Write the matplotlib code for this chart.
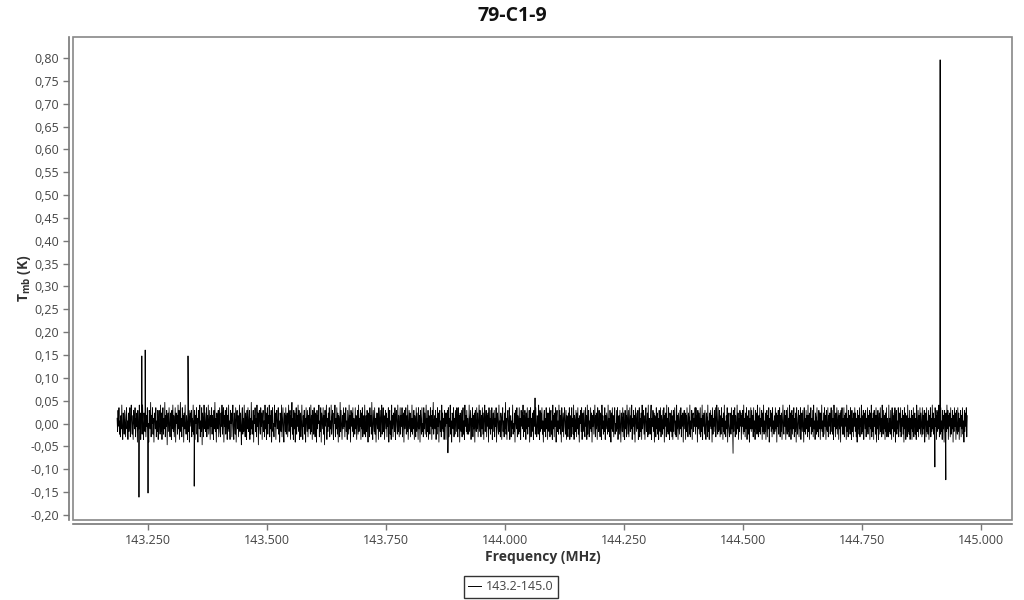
import numpy as np
import matplotlib
matplotlib.use("Agg")
import matplotlib.pyplot as plt
from matplotlib.ticker import FuncFormatter, MultipleLocator
from matplotlib.patches import Rectangle

plt.rcParams['font.family'] = ['Open Sans', 'DejaVu Sans']

title = "79-C1-9"
series_name = "143.2-145.0"
x_label = "Frequency (MHz)"
freq_start = 143.185
freq_end = 144.971
noise_unit_K = 0.0058

# baseline noise (units of ~5.8 mK)
noise_5mK = [
    2,-3,5,-1,6,-4,1,-5,3,-2,7,-3,-6,4,1,-4,5,0,-5,3,6,-2,1,-6,
    4,-3,0,6,-5,2,7,-1,-4,3,-6,5,1,-2,6,-5,2,-1,4,-7,5,0,-3,7,
    -2,4,-6,1,3,-4,7,-1,-6,4,1,-3,5,-5,3,-1,6,-4,0,-7,5,2,-2,8,
    -5,3,0,6,-4,2,-7,4,3,-2,6,-5,1,-3,5,-6,2,5,-1,-4,7,-3,4,-6,
    1,6,-4,2,-2,8,-5,3,-1,5,-8,2,4,-3,6,-1,-5,4,1,-6,5,-2,7,-3,
    3,-5,1,6,-7,4,0,3,-4,7,-2,5,-6,1,8,-3,2,-5,6,-1,3,-7,4,-2,
    7,-1,-4,3,0,-6,6,-3,5,-7,2,4,-1,5,-5,2,-3,7,-4,1,5,-6,3,0,
    6,-4,2,-7,5,2,-2,7,-5,1,-3,6,-8,4,1,-5,7,-2,4,-3,-1,6,-5,3,
    -2,7,-4,1,5,-6,3,-1,6,-4,3,0,-6,5,-2,8,-3,2,-7,4,2,-2,5,-5,
    1,6,-3,-5,4,-1,7,-4,2,6,-7,3,-1,5,-4,0,6,-6,3,-2,7,-3,1,-6,
    5,0,4,-5,2,7,-2,-6,4,1,-4,6,-7,3,5,-2,3,-5,1,7,-3,4,-1,-8,
    3,6,-4,2,-3,7,-1,-5,4,1,-6,5,-2,6,-3,0,5,-6,2,-4,8,-2,1,-4,
    5,-7,3,0,6,-3,2,-5,7,-1,4,-8,3,5,-2,-4,6,-1,4,-6,2,5,-3,1,
    -5,7,-2,4,-6,1,6,-4,3,0,7,-5,3,-2,5,-7,2,6,-3,0,-5,7,-1,4,
    -6,3,5,-2,-1,6,-4,1,-7,4,2,-3,7,-5,1,6,-2,-7,4,3,-3,6,-4,2,
    4,-5,1,7,-3,0,5,-6,3,-1,8,-4,2,-6,5,-2,4,-7,1,6,-4,3,-1,7,
    -3,5,-6,2,4,-5,0,7,-2,-6,3,-1,5,-4,2,-7,6,1,-3,5,-5,3,-2,6,
    0,-4,7,-3,3,-6,5,2,-4,6,-1,-5,4,2,-7,5,-2,3,0,7,-5,1,-3,6,
    -7,4,1,-2,6,-4,3,-8,5,-1,3,7,-6,2,-3,4,-1,6,-5,1,-2,7,-4,2,
    5,-3,-6,4,0,7,-5,2,-2,6,-4,4,-7,3,1,-5,8,-3,5,-1,-6,3,-2,6,
    -1,4,-5,2,6,-3,1,-6,5,0,-4,7,-2,3,-7,5,-1,4,-3,6,-5,2,0,-4,
    6,-2,3,-6,1,5,-4,7,-3,2,-1,5,-6,4,-2,6,-5,1,3,-4,7,-2,-5,3,
    -3,5,0,-7,4,2,-5,6,-1,3,-4,8,-2,-6,5,1,-3,6,-4,2,-7,4,1,-2,
    4,-6,6,-1,-3,5,-5,2,7,-4,0,6,-3,3,-6,1,5,-2,4,-5,2,-1,6,-7,
    2,5,-4,1,-6,7,-2,3,-5,4,1,-3,6,-6,2,5,-1,-4,7,-3,3,-5,0,6,
    -4,3,-1,6,-5,2,4,-7,5,-2,1,6,-4,3,-3,7,-6,0,5,-2,4,-5,2,-3,
    7,-4,2,-2,5,-6,3,1,-5,6,-3,4,-1,-6,6,-2,3,-7,5,1,-4,6,-3,0,
    -5,6,-2,4,-4,1,7,-5,2,-3,5,-6,3,0,-4,6,-1,3,-6,5,-2,8,-4,1,
    3,-2,5,-6,2,-4,6,-1,4,-7,3,5,-3,1,-5,7,-2,4,-3,2,-6,5,-1,4,
    -6,4,0,5,-3,6,-5,2,-1,7,-4,1,-7,4,3,-2,6,-5,2,-4,5,1,-3,6,
    2,-5,6,-2,3,-7,4,0,-3,5,-5,2,6,-4,1,-6,7,-1,3,-3,5,-4,2,-2,
    -4,7,-3,1,5,-6,2,-1,6,-5,3,-2,4,-7,5,0,-3,6,-2,4,-5,1,7,-3,
    5,-1,-5,3,-2,6,-4,4,-6,2,7,-3,0,5,-5,3,-1,4,-7,6,-2,2,-4,5,
    -2,6,-6,1,4,-3,5,-5,2,-1,6,-7,3,4,-2,-4,7,-3,1,-5,4,2,-6,3,
    6,-3,1,-5,4,-2,8,-4,2,-6,3,5,-1,-3,6,-6,2,3,-5,1,-2,7,-4,0,
    -3,4,-7,5,1,-2,6,-5,3,0,-4,6,-3,2,-6,5,-1,4,-2,7,-5,3,-3,5,
    1,-6,4,-2,6,-4,2,-1,5,-7,3,6,-5,2,-3,4,0,-6,5,-1,3,-4,6,-2,
    -5,3,2,-4,7,-1,-6,5,-3,4,-2,6,-4,1,-7,3,5,-3,2,-5,6,-2,4,-6,
    4,-1,-3,6,-5,2,5,-4,1,-6,7,-2,3,-5,4,-1,6,-7,2,5,-3,1,-4,7,
    -2,5,-4,3,-7,6,0,-3,4,-5,2,6,-1,-4,5,-6,3,1,-5,4,-2,6,-6,2,
    3,-5,6,-1,2,-4,7,-6,3,1,-3,5,-5,4,-2,6,-4,2,-7,3,0,5,-3,6,
    -6,2,4,-3,5,-2,-5,6,-1,3,-6,7,-4,2,5,-5,1,-2,6,-3,4,-7,3,-1,
    5,-4,1,7,-5,3,-2,4,-6,6,0,-3,5,-1,-5,4,2,-6,7,-2,3,-4,1,-3,
    6,-6,3,-2,4,-1,-4,7,-3,2,-5,5,1,-7,4,-2,6,-3,3,-5,2,6,-4,0,
    -3,5,-2,6,-6,1,3,-4,5,-1,-7,4,2,-3,6,-5,4,0,-6,5,-2,3,-5,7,
    2,-4,5,-5,1,6,-3,3,-2,7,-6,2,-1,5,-4,3,-7,6,1,-3,4,-2,5,-6,
    -1,6,-5,2,-3,4,-6,7,-2,1,5,-4,3,-6,2,6,-3,-1,4,-5,7,-4,2,1,
    -4,3,7,-6,2,-1,5,-3,4,-7,3,1,-5,6,-2,4,-4,2,-6,5,0,-3,6,-5,
    3,1,-4,5,-2,6,-7,3,-1,4,-5,7,-3,2,-4,6,-1,-6,4,2,-3,5,-5,3,
    -6,5,-3,2,6,-4,1,-5,7,-2,3,-6,4,0,-4,5,-2,6,-5,3,-1,4,-7,2,
    5,-2,4,-6,3,-3,6,-1,-5,4,2,-4,7,-5,1,-2,5,-6,3,4,-3,2,-1,6,
    -4,6,-1,3,-7,5,-2,4,-4,1,6,-5,2,-3,7,-6,3,-1,4,-4,5,-2,-6,4,
    2,-5,7,-3,1,-6,4,-1,5,-2,3,-7,6,-4,2,-1,5,-3,6,-5,2,7,-2,-4,
    6,-3,-2,5,-5,3,-4,6,-1,2,-6,4,-3,7,-4,1,-5,3,-2,6,-7,4,0,-3,
    -5,4,2,-4,6,-2,3,-6,5,-3,1,6,-5,3,-1,-4,7,-2,4,-6,2,-3,5,-1,
    4,-6,3,-1,5,-4,7,-3,2,-5,4,-2,6,-6,1,3,-4,5,-7,2,-2,6,-3,5,
    -2,3,-5,6,-3,1,-6,5,-2,4,-4,7,-1,-5,3,-3,6,-4,2,-1,5,-6,4,-3,
    7,-4,1,-3,4,-6,2,5,-5,3,-2,6,-7,2,-1,5,-3,4,-5,6,-2,1,-4,3,
    -3,6,-2,4,-7,3,-1,5,-4,2,6,-5,3,-3,4,-6,1,7,-2,-4,5,-1,3,-6,
    5,-1,-4,6,-3,2,-5,7,-2,4,-6,1,5,-4,3,-2,6,-5,2,-3,4,-7,6,-1,
    -4,2,5,-5,3,-2,6,-6,1,4,-3,5,-1,-7,6,-3,2,-4,5,-2,3,-5,7,-3,
    3,-6,4,-1,6,-4,2,-3,5,-5,7,-2,1,-6,4,2,-4,6,-3,1,-5,5,-2,4,
    -6,4,-2,7,-3,1,-5,4,-4,6,-1,3,-6,5,-2,-3,6,-5,3,-1,4,-4,2,6,
    -3,5,-4,2,-6,7,-1,3,-5,4,-2,6,-4,1,5,-6,3,-2,4,-7,5,-1,6,-4,
    2,-4,6,-5,3,-1,4,-6,7,-3,2,-5,5,-2,3,-4,6,-1,-6,5,-3,2,-5,4,
    -1,6,-3,4,-5,2,-7,5,-2,3,-4,6,-5,2,-1,7,-4,3,-3,5,-6,1,4,-2,
    5,-5,2,-3,6,-4,3,-1,5,-6,4,-2,7,-5,2,-3,4,-6,5,-1,3,-4,6,-7,
    3,-2,5,-6,1,4,-4,6,-3,2,-5,7,-1,-4,5,-2,3,-6,4,-3,6,-5,2,-1,
    -5,7,-3,2,-4,5,-1,-6,6,-2,3,-5,4,-3,6,-7,2,5,-4,1,-2,6,-5,3,
    4,-3,6,-5,2,-1,5,-4,3,-7,6,-2,4,-6,1,3,-5,7,-3,2,-4,5,-6,2,
    -2,5,-6,3,-3,6,-5,1,4,-4,2,-6,7,-1,-3,5,-5,3,-2,6,-4,4,-1,-5,
    6,-4,3,-2,5,-7,2,4,-5,6,-3,1,-4,5,-6,3,-1,6,-5,2,-3,7,-2,4,
    -4,2,-5,6,-1,3,-6,5,-3,4,-2,7,-5,2,-4,6,-3,1,-6,5,-2,3,-7,5,
    1,-5,4,-3,7,-2,5,-6,3,-1,4,-5,6,-4,2,-2,5,-7,3,-3,6,-1,4,-6,
    5,-2,-4,6,-3,4,-6,2,-1,5,-5,3,-2,6,-4,1,-7,5,-3,4,-1,6,-5,3,
]

# narrow features (MHz, K)
spike_freq = [143.231, 143.237, 143.244, 143.250, 143.334, 143.347,
              143.880, 144.063, 144.479, 144.903, 144.914, 144.926]
spike_val = [-0.161, 0.148, 0.161, -0.152, 0.148, -0.137,
             -0.064, 0.056, -0.065, -0.095, 0.796, -0.123]

freq = np.linspace(freq_start, freq_end, len(noise_5mK))
tmb = np.array(noise_5mK, dtype=float) * noise_unit_K
idx = np.searchsorted(freq, spike_freq)
freq = np.insert(freq, idx, spike_freq)
tmb = np.insert(tmb, idx, spike_val)

fig = plt.figure(figsize=(10.24, 6.0), dpi=100)
ax = fig.add_axes([73/1024, 1-520/600, (1012-73)/1024, (520-37)/600])

ax.plot(freq, tmb, color='black', lw=0.6, label=series_name)

ax.set_xlim(143.0924, 145.065)
ax.set_ylim(-0.211, 0.846)
ax.xaxis.set_major_locator(MultipleLocator(0.25))
ax.yaxis.set_major_locator(MultipleLocator(0.05))
ax.xaxis.set_major_formatter(FuncFormatter(lambda v, p: f"{v:.3f}"))
ax.yaxis.set_major_formatter(FuncFormatter(lambda v, p: f"{v:.2f}".replace('.', ',').replace('-0,00', '0,00')))

for s in ['top', 'right']:
    ax.spines[s].set_visible(False)
for s in ['left', 'bottom']:
    ax.spines[s].set_position(('outward', 3))
    ax.spines[s].set_color('#777777')
    ax.spines[s].set_linewidth(1.2)
ax.add_patch(Rectangle((0, 0), 1, 1, transform=ax.transAxes, fill=False,
                       edgecolor='#888888', lw=1.2, clip_on=False, zorder=5))

ax.tick_params(axis='both', direction='out', length=4, width=1, color='#777777',
               labelsize=9, labelcolor='#444444', pad=3)

ax.set_xlabel(x_label, fontsize=10, fontweight='bold', color='#333333', labelpad=2)
ax.set_ylabel(r'T$_{\mathregular{mb}}$ (K)', fontsize=10, fontweight='bold', color='#333333', labelpad=-2)

fig.suptitle(title, fontsize=14, fontweight='bold', y=1-16/600, va='center', color='#111111')

leg = fig.legend(loc='center', bbox_to_anchor=(511/1024, 1-587/600), frameon=True,
                 fontsize=9, handlelength=1.0, handletextpad=0.4, borderpad=0.35,
                 fancybox=False, labelcolor='#444444')
leg.get_frame().set_edgecolor('black')
leg.get_frame().set_linewidth(1.0)
for l in leg.get_lines():
    l.set_linewidth(0.7)

fig.savefig('out.png', dpi=100)
